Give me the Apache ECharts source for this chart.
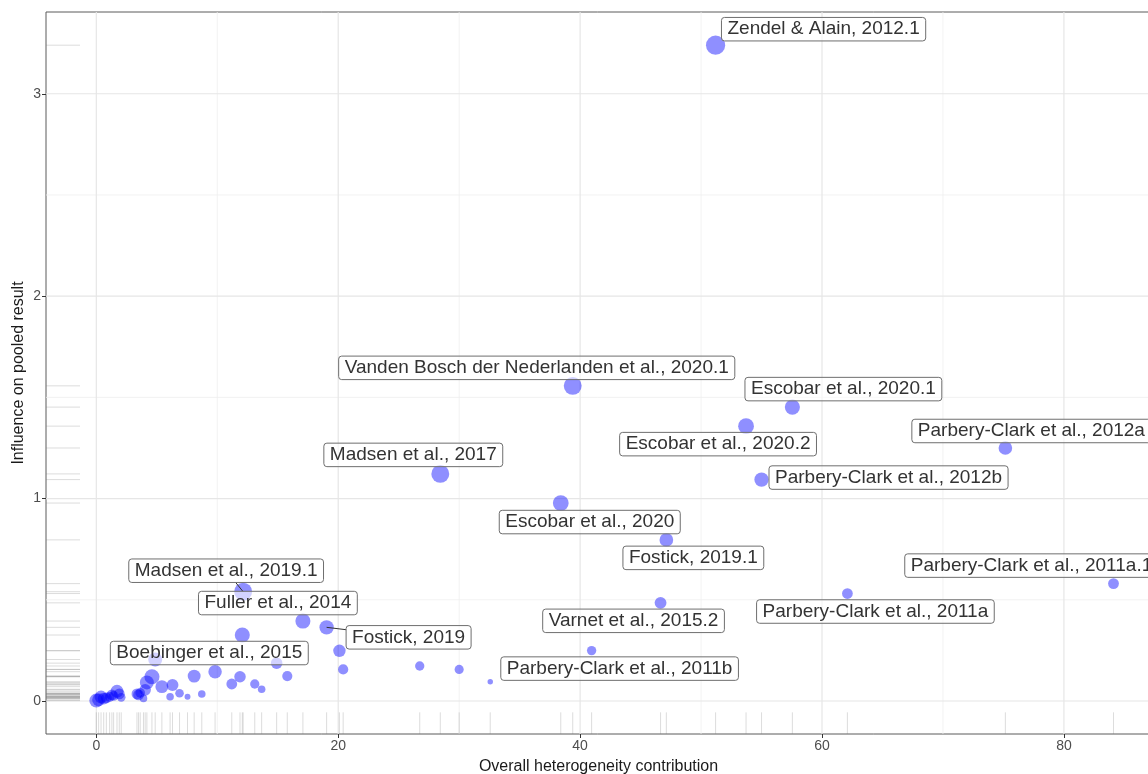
<!DOCTYPE html>
<html>
<head>
<meta charset="utf-8">
<script src="https://cdn.jsdelivr.net/npm/echarts@6/dist/echarts.min.js"></script>
<style>
  html, body { margin: 0; padding: 0; background: #ffffff; }
  #chart { width: 1148px; height: 774px; }
</style>
</head>
<body>
<div id="chart"></div>
<script>
// Baujat plot: each study's contribution to overall heterogeneity (x)
// against its influence on the pooled result (y); marker area follows study weight.
const study = [
  '', '', '', '', '', '', '', '', '', '', '',
  '', '', '', '', '', '', '', '', '', '',
  '', '', '', '', '', '', '', '',
  'Boebinger et al., 2015', 'Madsen et al., 2019.1',
  '', '', '', '',
  'Fuller et al., 2014', 'Fostick, 2019',
  '', '', '',
  'Madsen et al., 2017',
  '', '',
  'Escobar et al., 2020',
  'Vanden Bosch der Nederlanden et al., 2020.1',
  'Parbery-Clark et al., 2011b',
  'Varnet et al., 2015.2',
  'Fostick, 2019.1',
  'Zendel & Alain, 2012.1',
  'Escobar et al., 2020.2',
  'Parbery-Clark et al., 2012b',
  'Escobar et al., 2020.1',
  'Parbery-Clark et al., 2011a',
  'Parbery-Clark et al., 2012a',
  'Parbery-Clark et al., 2011a.1'
];
const heterogeneity = [
  0.00, 0.19, 0.39, 0.61, 0.83, 1.10, 1.29, 1.43, 1.71, 1.90, 2.06,
  3.36, 3.49, 3.63, 3.90, 4.04, 4.18, 4.60, 4.87, 5.42, 6.10,
  6.30, 6.88, 7.54, 8.09, 8.72, 9.82, 11.20, 11.88,
  12.07, 12.14,
  13.10, 13.67, 14.91, 15.79,
  17.08, 19.04,
  20.10, 20.41, 26.74,
  28.44,
  30.00, 32.57,
  38.40, 39.39, 40.95, 46.65, 47.13, 51.20, 53.72, 55.00, 57.55, 62.10, 75.16, 84.10
];
const influence = [
  0.002, 0.006, 0.020, 0.012, 0.015, 0.020, 0.030, 0.025, 0.048, 0.035, 0.018,
  0.035, 0.030, 0.040, 0.013, 0.055, 0.092, 0.120, 0.205, 0.071, 0.021,
  0.079, 0.038, 0.021, 0.123, 0.035, 0.145, 0.084, 0.120,
  0.326, 0.540,
  0.084, 0.058, 0.187, 0.123,
  0.395, 0.364,
  0.248, 0.156, 0.173,
  1.122,
  0.156, 0.095,
  0.978, 1.557, 0.249, 0.485, 0.796, 3.240, 1.358, 1.094, 1.452, 0.531, 1.250, 0.580
];
const weight = [
  10.6, 9.0, 9.0, 7.6, 6.3, 5.1, 6.3, 5.1, 9.0, 6.3, 4.0,
  6.3, 6.3, 5.1, 3.1, 7.2, 10.6, 12.3, 10.6, 9.0, 3.1,
  7.6, 4.0, 1.9, 9.0, 3.1, 9.8, 6.3, 7.2,
  12.3, 17.4,
  4.7, 3.1, 7.2, 5.6,
  12.3, 11.1,
  8.3, 5.6, 4.7,
  17.4,
  4.5, 1.6,
  13.5, 17.4, 4.7, 7.6, 10.1, 20.0, 13.5, 11.1, 12.3, 6.3, 10.1, 6.3
];

const xTicks = [0, 20, 40, 60, 80];
const xMinorTicks = [10, 30, 50, 70];
const yTicks = [0, 1, 2, 3];
const yMinorTicks = [0.5, 1.5, 2.5];

// ---- styling / layout -------------------------------------------------
const FONT = '"Liberation Sans", Arial, Helvetica, sans-serif';
const LABEL_SIZE = 19;
const LABEL_PAD_X = 6;
const LABEL_PAD_Y = 2;
const RUG_LEFT_LEN = 34;
const SIZE_SCALE = 4.3;

// label placement relative to its marker, in pixels (centre of the label box)
const labelNudge = {
  'Zendel & Alain, 2012.1': [108, -16],
  'Vanden Bosch der Nederlanden et al., 2020.1': [-36, -18],
  'Escobar et al., 2020.1': [51, -18],
  'Escobar et al., 2020.2': [-28, 18],
  'Parbery-Clark et al., 2012a': [26, -17],
  'Madsen et al., 2017': [-27, -19],
  'Parbery-Clark et al., 2012b': [127, -2],
  'Escobar et al., 2020': [29, 19],
  'Fostick, 2019.1': [27, 18],
  'Parbery-Clark et al., 2011a.1': [-82, -18],
  'Madsen et al., 2019.1': [-17, -21],
  'Parbery-Clark et al., 2011a': [28, 18],
  'Fuller et al., 2014': [-25, -18],
  'Varnet et al., 2015.2': [-27, 18],
  'Fostick, 2019': [82, 10],
  'Boebinger et al., 2015': [-33, 18],
  'Parbery-Clark et al., 2011b': [28, 18]
};
const labelWithSegment = { 'Madsen et al., 2019.1': true, 'Fostick, 2019': true };

const measureCtx = document.createElement('canvas').getContext('2d');
measureCtx.font = LABEL_SIZE + 'px ' + FONT;
function textWidth(s) { return measureCtx.measureText(s).width; }

// ---- series data built from the arrays ---------------------------------
const pointData = heterogeneity.map((x, i) => ({
  value: [x, influence[i]],
  name: study[i],
  symbolSize: SIZE_SCALE * Math.sqrt(weight[i])
}));

const labelData = [];
study.forEach((s, i) => { if (s) labelData.push([heterogeneity[i], influence[i], i]); });

// gridline specs: [x, y, kind] kind 0 = x major, 1 = x minor, 2 = y major, 3 = y minor
const gridData = []
  .concat(xMinorTicks.map(v => [v, 0, 1]))
  .concat(yMinorTicks.map(v => [0, v, 3]))
  .concat(xTicks.map(v => [v, 0, 0]))
  .concat(yTicks.map(v => [0, v, 2]));

const chart = echarts.init(document.getElementById('chart'), null, { renderer: 'canvas' });

chart.setOption({
  animation: false,
  backgroundColor: '#ffffff',
  textStyle: { fontFamily: FONT },
  grid: {
    left: 46, top: 12, right: -3, bottom: 40,
    show: true, borderColor: '#5a5a5a', borderWidth: 1, backgroundColor: '#ffffff',
    outerBoundsMode: 'none', containLabel: false
  },
  xAxis: {
    type: 'value', min: -4.16, max: 87.2,
    name: 'Overall heterogeneity contribution',
    nameLocation: 'middle', nameGap: 33, nameMoveOverlap: false,
    nameTextStyle: { fontSize: 16, color: '#1a1a1a', fontFamily: FONT, verticalAlign: 'middle' },
    axisLine: { show: false, onZero: false },
    axisTick: { show: true, length: 4, customValues: xTicks, lineStyle: { color: '#333333', width: 1 } },
    axisLabel: { customValues: xTicks, fontSize: 14, color: '#4d4d4d', margin: 5, fontFamily: FONT },
    splitLine: { show: false }
  },
  yAxis: {
    type: 'value', min: -0.163, max: 3.404,
    name: 'Influence on pooled result',
    nameLocation: 'middle', nameGap: 27, nameMoveOverlap: false,
    nameTextStyle: { fontSize: 16, color: '#1a1a1a', fontFamily: FONT, verticalAlign: 'middle' },
    axisLine: { show: false, onZero: false },
    axisTick: { show: true, length: 4, customValues: yTicks, lineStyle: { color: '#333333', width: 1 } },
    axisLabel: { customValues: yTicks, fontSize: 14, color: '#4d4d4d', margin: 5, fontFamily: FONT },
    splitLine: { show: false }
  },
  series: [
    {
      // panel gridlines
      type: 'custom', silent: true, z: 1, clip: true,
      data: gridData,
      encode: { x: 0, y: 1 },
      renderItem: function (params, api) {
        const cs = params.coordSys;
        const kind = api.value(2);
        const major = kind === 0 || kind === 2;
        const style = { stroke: major ? '#e6e6e6' : '#efefef', lineWidth: major ? 1.2 : 0.8 };
        if (kind < 2) {
          const x = api.coord([api.value(0), 0])[0];
          return { type: 'line', shape: { x1: x, y1: cs.y, x2: x, y2: cs.y + cs.height }, style: style };
        }
        const y = api.coord([0, api.value(1)])[1];
        return { type: 'line', shape: { x1: cs.x, y1: y, x2: cs.x + cs.width, y2: y }, style: style };
      }
    },
    {
      // rug along the x axis
      type: 'custom', silent: true, z: 2,
      data: heterogeneity.map(v => [v, 0]),
      encode: { x: 0, y: 1 },
      renderItem: function (params, api) {
        const cs = params.coordSys;
        const x = api.coord([api.value(0), 0])[0];
        const bottom = cs.y + cs.height;
        return { type: 'line', shape: { x1: x, y1: bottom, x2: x, y2: bottom - 0.03 * cs.height },
                 style: { stroke: 'rgba(120,120,120,0.25)', lineWidth: 1 } };
      }
    },
    {
      // rug along the y axis
      type: 'custom', silent: true, z: 2,
      data: influence.map(v => [0, v]),
      encode: { x: 0, y: 1 },
      renderItem: function (params, api) {
        const cs = params.coordSys;
        const y = api.coord([0, api.value(1)])[1];
        return { type: 'line', shape: { x1: cs.x, y1: y, x2: cs.x + RUG_LEFT_LEN, y2: y },
                 style: { stroke: 'rgba(120,120,120,0.25)', lineWidth: 1 } };
      }
    },
    {
      type: 'scatter', z: 3,
      data: pointData,
      symbol: 'circle',
      itemStyle: { color: 'rgba(0,0,255,0.55)', borderWidth: 0 },
      emphasis: { disabled: true }
    },
    {
      // study labels in boxes
      type: 'custom', z: 4, silent: true, clip: false,
      data: labelData,
      encode: { x: 0, y: 1 },
      renderItem: function (params, api) {
        const name = study[api.value(2)];
        const p = api.coord([api.value(0), api.value(1)]);
        const off = labelNudge[name] || [0, -20];
        const cx = p[0] + off[0];
        const cy = p[1] + off[1];
        const w = textWidth(name) + 2 * LABEL_PAD_X;
        const h = LABEL_SIZE + 2 * LABEL_PAD_Y + 0.5;
        const children = [];
        if (labelWithSegment[name]) {
          const dx = p[0] - cx, dy = p[1] - cy;
          const t = Math.min((w / 2) / Math.max(Math.abs(dx), 1e-6), (h / 2) / Math.max(Math.abs(dy), 1e-6));
          children.push({
            type: 'line',
            shape: { x1: cx + dx * t, y1: cy + dy * t, x2: p[0], y2: p[1] },
            style: { stroke: '#333333', lineWidth: 1 }
          });
        }
        children.push({
          type: 'rect',
          shape: { x: cx - w / 2, y: cy - h / 2, width: w, height: h, r: 3 },
          style: { fill: 'rgba(255,255,255,0.6)', stroke: '#6e6e6e', lineWidth: 1 }
        });
        children.push({
          type: 'text', x: cx, y: cy,
          style: { text: name, fill: '#333333', font: LABEL_SIZE + 'px ' + FONT,
                   align: 'center', verticalAlign: 'middle' }
        });
        return { type: 'group', children: children };
      }
    }
  ]
});
</script>
</body>
</html>
